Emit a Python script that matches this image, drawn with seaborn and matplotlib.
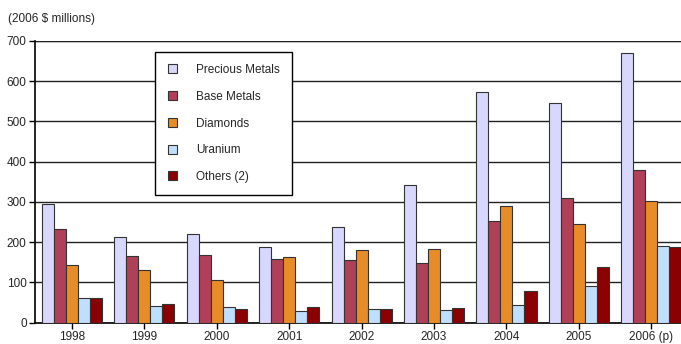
import pandas as pd
import matplotlib.pyplot as plt
import seaborn as sns

years = ['1998', '1999', '2000', '2001', '2002', '2003', '2004', '2005', '2006 (p)']
precious = [295, 214, 221, 188, 237, 343, 572, 547, 669]
base = [233, 165, 168, 158, 155, 148, 253, 310, 380]
diamonds = [143, 130, 105, 163, 180, 183, 290, 245, 302]
uranium = [62, 41, 38, 29, 33, 32, 45, 92, 190]
others = [61, 46, 33, 38, 33, 36, 78, 138, 188]

series = ['Precious Metals', 'Base Metals', 'Diamonds', 'Uranium', 'Others (2)']
colors = ['#D8D8FF', '#B04058', '#E88C28', '#BFDFFF', '#8B0000']

rows = []
for name, vals in zip(series, [precious, base, diamonds, uranium, others]):
    for y, v in zip(years, vals):
        rows.append({'year': y, 'series': name, 'value': v})
df = pd.DataFrame(rows)

sns.set_style('white')
plt.rcParams['font.family'] = ['Liberation Sans', 'DejaVu Sans']

fig = plt.figure(figsize=(6.81, 3.44), dpi=100)
ax = fig.add_axes([0.0514, 0.062, 0.9486, 0.819])

sns.barplot(data=df, x='year', y='value', hue='series', palette=colors,
            saturation=1, width=0.83, gap=0, edgecolor='#333333', linewidth=0.8,
            ax=ax, zorder=3)

ax.set_ylim(0, 700)
ax.set_xlim(-0.51, 8.41)
ax.set_yticks(range(0, 701, 100))
ax.yaxis.grid(True, color='#222222', linewidth=1.0, zorder=0)
ax.set_axisbelow(True)
ax.set_xlabel('')
ax.set_ylabel('')
ax.tick_params(axis='both', labelsize=8.5, length=4, width=1, color='black',
               left=True, bottom=True, pad=2)
for s in ['top', 'right']:
    ax.spines[s].set_visible(False)
for s in ['left', 'bottom']:
    ax.spines[s].set_color('black')
    ax.spines[s].set_linewidth(1.2)
ax.axhline(700, color='#222222', linewidth=1.6, zorder=1)

fig.text(0.012, 0.945, '(2006 $ millions)', fontsize=8.5, ha='left', va='center')

leg = ax.legend(loc='upper left', bbox_to_anchor=(0.186, 0.962), fontsize=8.5,
                frameon=True, fancybox=False, framealpha=1, edgecolor='black',
                handlelength=0.8, handleheight=0.8, handletextpad=1.6,
                labelspacing=1.25, borderpad=1.05, borderaxespad=0)
leg.get_frame().set_linewidth(1.0)
for h in leg.legend_handles:
    h.set_edgecolor('#333333')
    h.set_linewidth(0.8)

fig.savefig('out.png', dpi=100)
